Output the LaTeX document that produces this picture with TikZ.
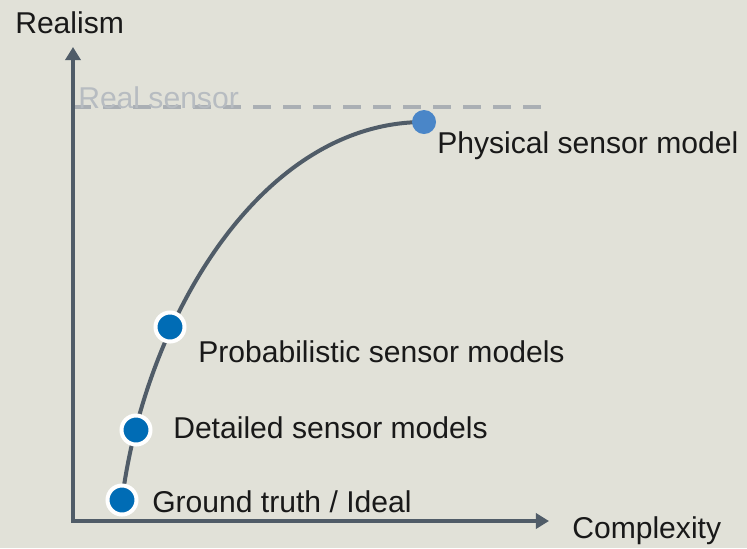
\documentclass[tikz,border=0pt]{standalone}
\usepackage{fontspec}
\setmainfont{Liberation Sans}
\usetikzlibrary{arrows.meta, backgrounds}

\definecolor{paper}{RGB}{225,225,216}
\definecolor{axisgray}{RGB}{80,92,104}
\definecolor{dashgray}{RGB}{170,175,180}
\definecolor{realgray}{RGB}{183,188,193}
\definecolor{dotblue}{RGB}{0,108,181}
\definecolor{topblue}{RGB}{74,134,200}
\definecolor{ink}{RGB}{25,25,25}

\begin{document}
\begin{tikzpicture}[x=0.025cm, y=-0.025cm,
    txt/.style={anchor=base west, inner sep=0pt, text=ink, font=\fontsize{21.4pt}{25pt}\selectfont},
    dot/.style={circle, draw=white, line width=0.1cm, fill=dotblue, minimum size=0.725cm, inner sep=0pt}]
    % Background and bounding box
    \begin{scope}[on background layer]
        \fill[paper] (0,0) rectangle (747,548);
    \end{scope}
    \useasboundingbox (0,0) rectangle (747,548);

    % Define axis coordinates
    \coordinate (ytip) at (73,47);
    \coordinate (xtip) at (549,521);
    \coordinate (rs) at (73,107);
    \coordinate (rsend) at (548,107);

    % Real sensor level
    \draw[dashgray, line width=0.12cm, dash pattern=on 0.45cm off 0.3cm] (rs) -- (rsend);
    \node[txt, text=realgray] (realsensor) at (78,108) {Real sensor};

    % Draw axes
    \draw[axisgray, line width=0.1cm, {Triangle[length=0.33cm, width=0.38cm]}-{Triangle[length=0.33cm, width=0.38cm]}] (ytip) |- (xtip);
    \node[txt] (realism) at (15,33) {Realism};
    \node[txt] (complexity) at (572,538) {Complexity};

    % Define model positions (bottom to top)
    \node[dot] (ground) at (122,500) {};
    \node[dot] (detailed) at (136,430) {};
    \node[dot] (probabilistic) at (170,327) {};
    \node[circle, fill=topblue, minimum size=0.6cm, inner sep=0pt] (physical) at (424,122) {};

    % Draw curve
    \begin{scope}[on background layer]
        \draw[axisgray, line width=0.1cm] (ground.center) .. controls (145,320) and (260,122) .. (physical.center);
    \end{scope}

    % Labels
    \node[txt] (groundlabel) at (152,512) {Ground truth / Ideal};
    \node[txt] (detailedlabel) at (173,438) {Detailed sensor models};
    \node[txt] (problabel) at (198,362) {Probabilistic sensor models};
    \node[txt] (physlabel) at (437,153) {Physical sensor model};
\end{tikzpicture}
\end{document}
